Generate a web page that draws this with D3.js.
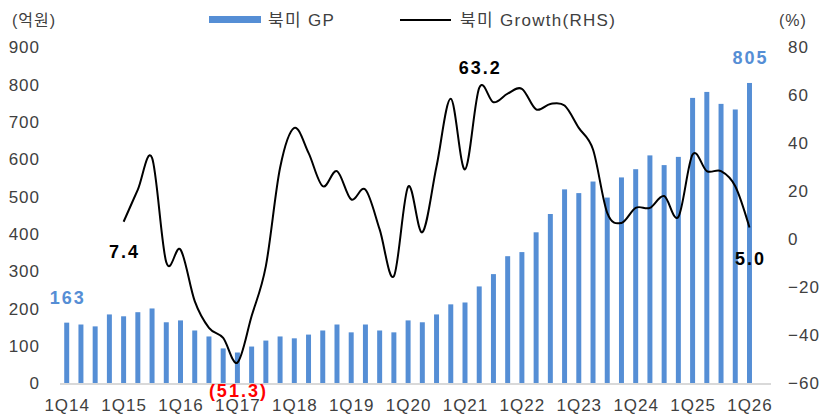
<!DOCTYPE html>
<html>
<head>
<meta charset="utf-8">
<script src="https://cdn.jsdelivr.net/npm/d3@7.9.0/dist/d3.min.js"></script>
<style>
  body { margin: 0; background: #fff; }
  svg { display: block; font-family: "Liberation Sans", Arial, "Noto Sans CJK KR", sans-serif; }
</style>
</head>
<body>
<div id="chart"></div>
<script>
const quarters = [];
for (let y = 14; y <= 26; y++) {
  for (let q = 1; q <= 4; q++) {
    if (y === 26 && q > 1) break;
    quarters.push(q + 'Q' + y);
  }
}

// 북미 GP (억원)
const gp = [
  163, 158, 153, 185, 180, 191, 201, 164,
  169, 142, 126, 94, 83, 99, 115, 126,
  121, 131, 142, 158, 137, 158, 142, 137,
  169, 164, 185, 212, 217, 260, 293, 341,
  352, 405, 454, 520, 510, 541, 498, 552,
  574, 611, 585, 607, 765, 781, 749, 734,
  805
];

// 북미 Growth (%), from 1Q15
const growthQuarters = quarters.slice(4);
const growth = [
  7.4, 20.8, 34.0, -9.5, -4.2, -25.7, -36.8, -41.0,
  -51.3, -31.9, -11.1, 29.9, 46.5, 36.1, 22.2, 28.5,
  16.7, 20.8, 4.2, -15.3, 22.0, 3.0, 30.5, 58.6,
  29.2, 63.2, 57.2, 60.8, 62.8, 54.2, 56.5, 55.8,
  46.5, 37.5, 11.1, 6.9, 13.2, 13.2, 18.1, 9.4,
  35.4, 28.5, 28.5, 22.2, 5.0
];

const leftTicks = [0, 100, 200, 300, 400, 500, 600, 700, 800, 900];
const rightTicks = [-60, -40, -20, 0, 20, 40, 60, 80];
const xLabels = ['1Q14', '1Q15', '1Q16', '1Q17', '1Q18', '1Q19', '1Q20', '1Q21', '1Q22', '1Q23', '1Q24', '1Q25', '1Q26'];

const width = 831, height = 419;
const barColor = '#558ed5';
const tickColor = '#404040';

const svg = d3.select('#chart').append('svg')
  .attr('width', width)
  .attr('height', height);

const x = d3.scaleBand()
  .domain(quarters)
  .range([59.6, 756.6])
  .paddingInner(0.65)
  .paddingOuter(0.325);

const yL = d3.scaleLinear().domain([0, 900]).range([383.5, 47.5]);
const yR = d3.scaleLinear().domain([-60, 80]).range([383.5, 47.5]);
const cx = d => x(d) + x.bandwidth() / 2;

// bars
svg.append('g')
  .selectAll('rect')
  .data(gp)
  .join('rect')
  .attr('x', (d, i) => x(quarters[i]))
  .attr('width', x.bandwidth())
  .attr('y', d => yL(d))
  .attr('height', d => yL(0) - yL(d))
  .attr('fill', barColor);

// baseline
svg.append('line')
  .attr('x1', 60).attr('x2', 771)
  .attr('y1', yL(0) + 0.5).attr('y2', yL(0) + 0.5)
  .attr('stroke', '#d9d9d9')
  .attr('stroke-width', 2);

// growth line
const line = d3.line()
  .x((d, i) => cx(growthQuarters[i]))
  .y(d => yR(d))
  .curve(d3.curveCardinal.tension(0));

svg.append('path')
  .datum(growth)
  .attr('d', line)
  .attr('fill', 'none')
  .attr('stroke', '#000')
  .attr('stroke-width', 2);

// left axis
svg.append('g')
  .selectAll('text')
  .data(leftTicks)
  .join('text')
  .attr('x', 40)
  .attr('y', d => yL(d))
  .attr('dy', '0.35em')
  .attr('text-anchor', 'end')
  .attr('font-size', 17)
  .attr('letter-spacing', 1)
  .attr('fill', tickColor)
  .text(d => d);

// right axis
svg.append('g')
  .selectAll('text')
  .data(rightTicks)
  .join('text')
  .attr('x', 788)
  .attr('y', d => yR(d))
  .attr('dy', '0.35em')
  .attr('font-size', 17)
  .attr('letter-spacing', 1)
  .attr('fill', tickColor)
  .text(d => d < 0 ? '\u2212' + Math.abs(d) : d);

// x labels
svg.append('g')
  .selectAll('text')
  .data(xLabels)
  .join('text')
  .attr('x', d => cx(d) + 0.5)
  .attr('y', 405)
  .attr('dy', '0.35em')
  .attr('text-anchor', 'middle')
  .attr('font-size', 17)
  .attr('letter-spacing', 1)
  .attr('fill', tickColor)
  .text(d => d);

// units
svg.append('text').attr('x', 12).attr('y', 20).attr('dy', '0.35em')
  .attr('font-size', 16).attr('letter-spacing', 1).attr('fill', tickColor).text('(억원)');
svg.append('text').attr('x', 779).attr('y', 20).attr('dy', '0.35em')
  .attr('font-size', 16).attr('letter-spacing', 1).attr('fill', tickColor).text('(%)');

// legend
const legend = svg.append('g');
legend.append('rect').attr('x', 209).attr('y', 16).attr('width', 52).attr('height', 7).attr('fill', barColor);
legend.append('text').attr('x', 268).attr('y', 20).attr('dy', '0.35em')
  .attr('font-size', 17).attr('letter-spacing', 1.3).attr('fill', tickColor).text('북미 GP');
legend.append('line').attr('x1', 400).attr('x2', 451).attr('y1', 20).attr('y2', 20)
  .attr('stroke', '#000').attr('stroke-width', 2);
legend.append('text').attr('x', 460).attr('y', 20).attr('dy', '0.35em')
  .attr('font-size', 17).attr('letter-spacing', 1.3).attr('fill', tickColor).text('북미 Growth(RHS)');

// data labels
const gpLabels = [
  { q: '1Q14', v: 163, y: 298 },
  { q: '1Q26', v: 805, y: 58 }
];
svg.append('g')
  .selectAll('text')
  .data(gpLabels)
  .join('text')
  .attr('x', d => cx(d.q) + 1)
  .attr('y', d => d.y)
  .attr('dy', '0.35em')
  .attr('text-anchor', 'middle')
  .attr('font-size', 18)
  .attr('font-weight', 'bold')
  .attr('letter-spacing', 2)
  .attr('fill', barColor)
  .text(d => d.v);

const growthLabels = [
  { q: '1Q15', v: 7.4, y: 252, color: '#000' },
  { q: '1Q17', v: -51.3, y: 391, color: '#ff0000' },
  { q: '2Q21', v: 63.2, y: 68, color: '#000' },
  { q: '1Q26', v: 5.0, y: 259, color: '#000' }
];
svg.append('g')
  .selectAll('text')
  .data(growthLabels)
  .join('text')
  .attr('x', d => cx(d.q) + 1)
  .attr('y', d => d.y)
  .attr('dy', '0.35em')
  .attr('text-anchor', 'middle')
  .attr('font-size', 18)
  .attr('font-weight', 'bold')
  .attr('letter-spacing', 2)
  .attr('fill', d => d.color)
  .text(d => d.v < 0 ? '(' + Math.abs(d.v).toFixed(1) + ')' : d.v.toFixed(1));
</script>
</body>
</html>
